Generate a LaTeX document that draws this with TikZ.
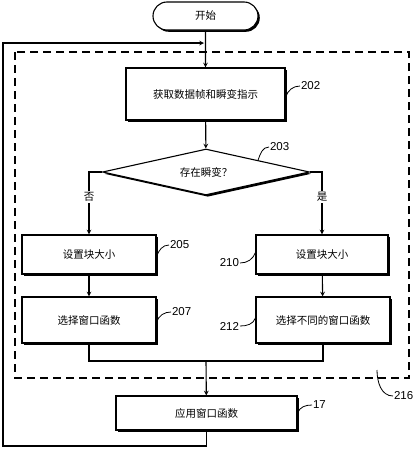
\documentclass[tikz,border=0pt]{standalone}
\usepackage{fontspec}
\setmainfont{Liberation Sans}
\newfontfamily\cjk{Noto Sans CJK SC}
\usetikzlibrary{shapes.geometric,shapes.misc,shadows}

\begin{document}
\begin{tikzpicture}[x=1pt, y=-1pt, >=stealth, line width=1.1pt,
  shadowed/.style={drop shadow={shadow xshift=1.8pt, shadow yshift=-1.8pt, fill=black, opacity=1}},
  box/.style={draw, fill=white, inner sep=0pt, minimum width=134pt, minimum height=39pt,
    font=\cjk\fontsize{10.5}{12}\selectfont, shadowed},
  tag/.style={font=\fontsize{11.5}{13}\selectfont, inner sep=0.5pt},
  lead/.style={line width=0.8pt},
  branch/.style={fill=white, inner sep=1.5pt, font=\cjk\fontsize{10.5}{12}\selectfont}]
  \useasboundingbox (0,0) rectangle (413,450);
  % dashed group
  \draw[dashed, dash pattern=on 8pt off 5pt, line width=1.2pt] (15,52) rectangle (409,378);
  % flow
  \node[box, rounded rectangle, minimum width=105pt, minimum height=28pt] (start) at (205.5,16) {开始};
  \node[box, minimum width=159pt, minimum height=52pt] (b202) at (205.5,94) {获取数据帧和瞬变指示};
  \node[box, diamond, aspect=4.5, minimum width=207pt, minimum height=46pt] (dia) at (206,172) {存在瞬变？};
  \node[box] (b205) at (89,254.5) {设置块大小};
  \node[box, minimum width=132pt] (b210) at (322,254.5) {设置块大小};
  \node[box, minimum height=46pt] (b207) at (89,320) {选择窗口函数};
  \node[box, minimum height=46pt] (b212) at (323,320) {选择不同的窗口函数};
  \node[box, minimum width=181pt, minimum height=34pt] (b17) at (206.5,413) {应用窗口函数};
  \coordinate (merge) at (206,361);
  \coordinate (loopin) at (204,43);
  \coordinate (loopbl) at (3,446);
  \draw[->] (start) -- (b202);
  \draw[->] (b202) -- (dia);
  \draw[->] (dia.west) -| node[branch, pos=0.7]{否} (b205);
  \draw[->] (dia.east) -| node[branch, pos=0.7]{是} (b210);
  \draw[->] (b205) -- (b207);
  \draw[->] (b210) -- (b212);
  \draw (b207.south) |- (merge) -| (b212.south);
  \draw[->] (merge) -- (b17);
  \draw[->] (b17.south) |- (loopbl) |- (loopin);
  % reference numerals
  \node[tag, anchor=west] (l202) at (300,86) {202};
  \node[tag, anchor=west] (l203) at (269,147) {203};
  \node[tag, anchor=west] (l205) at (169,245) {205};
  \node[tag, anchor=east] (l210) at (240,263) {210};
  \node[tag, anchor=west] (l207) at (171,312) {207};
  \node[tag, anchor=east] (l212) at (240,326) {212};
  \node[tag, anchor=west] (l17) at (312,405) {17};
  \node[tag, anchor=west] (l216) at (393,396) {216};
  \draw[lead] ([yshift=-3pt]b202.east) to[out=70,in=180] (l202.west);
  \draw[lead] (dia.north east) to[out=70,in=180] (l203.west);
  \draw[lead] ([yshift=-2pt]b205.east) to[out=70,in=180] (l205.west);
  \draw[lead] (l210.east) to[out=0,in=250] ([yshift=2pt]b210.west);
  \draw[lead] ([yshift=-2pt]b207.east) to[out=70,in=180] (l207.west);
  \draw[lead] (l212.east) to[out=0,in=250] ([yshift=2pt]b212.west);
  \draw[lead] (b17.east) to[out=70,in=180] (l17.west);
  \coordinate (c216) at (377,370);
  \draw[lead] (c216) to[out=270,in=180] (l216.west);
\end{tikzpicture}
\end{document}
